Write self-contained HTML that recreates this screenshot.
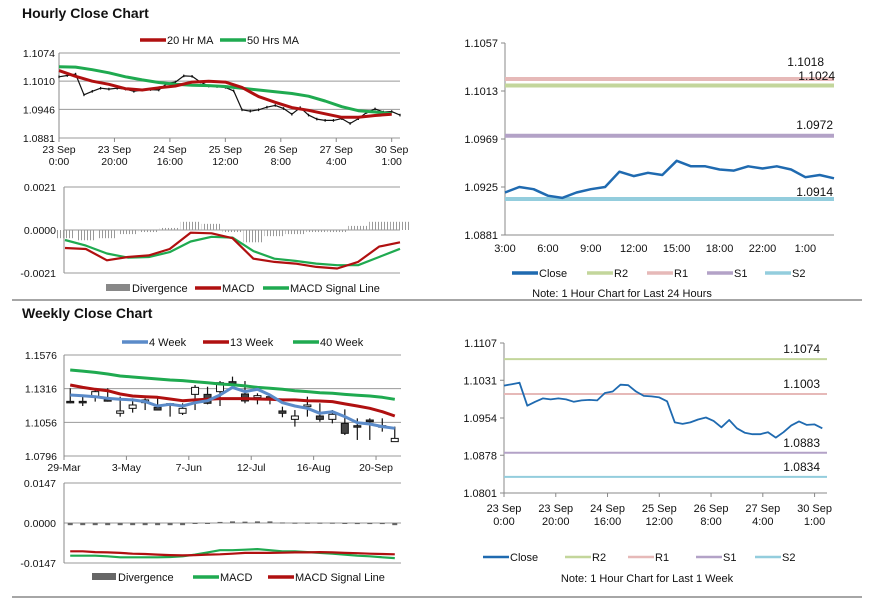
<!DOCTYPE html>
<html><head><meta charset="utf-8"><style>
html,body{margin:0;padding:0;background:#fff;}
svg{display:block;font-family:"Liberation Sans",Arial,sans-serif;}
</style></head><body>
<svg id="c" width="873" height="601" viewBox="0 0 873 601" xmlns="http://www.w3.org/2000/svg">
<defs><pattern id="stripes" width="3" height="4" patternUnits="userSpaceOnUse"><rect x="0" y="0" width="1" height="4" fill="#999"/></pattern></defs>
<text x="22" y="18" font-size="14" font-weight="bold" fill="#111">Hourly Close Chart</text>
<text x="22" y="318" font-size="14" font-weight="bold" fill="#111">Weekly Close Chart</text>
<line x1="12" y1="300" x2="862" y2="300" stroke="#888" stroke-width="1.5"/>
<line x1="12" y1="597" x2="862" y2="597" stroke="#888" stroke-width="1.5"/>
</svg>
<script>
const hourlyHours=[0,3,6,9,12,15,18,21,24,27,30,33,36,39,42,45,48,51,54,57,60,63,66,69,72,75,78,81,84,87,90,93,96,99,102,105,108,111,114,117,120,123];
const hourlyClose=[1.1020,1.1023,1.1026,1.0979,1.0987,1.0994,1.0992,1.0994,1.0992,1.0987,1.0990,1.0991,1.0990,1.1005,1.1008,1.1022,1.1021,1.1008,1.0999,1.0998,1.0996,1.0988,1.0945,1.0942,1.0945,1.0951,1.0955,1.0948,1.0935,1.0950,1.0933,1.0924,1.0921,1.0921,1.0925,1.0914,1.0925,1.0939,1.0947,1.0940,1.0941,1.0933];
const maHours=[0,6,12,18,24,30,36,42,48,54,60,66,72,78,84,90,96,102,108,114,120];
const ma20=[1.1034,1.1021,1.1010,1.1003,1.0993,1.0990,1.0995,1.0999,1.1008,1.1010,1.1008,1.0996,1.0975,1.0962,1.0950,1.0944,1.0936,1.0928,1.0928,1.0932,1.0935];
const ma50=[1.1043,1.1042,1.1036,1.1029,1.1020,1.1013,1.1007,1.1003,1.1001,1.1000,1.0998,1.0994,1.0990,1.0986,1.0982,1.0976,1.0965,1.0952,1.0943,1.0940,1.0936];
const hourlyTicks=[1.1074,1.1010,1.0946,1.0881];
const hourlyXLabels=[["23 Sep","0:00"],["23 Sep","20:00"],["24 Sep","16:00"],["25 Sep","12:00"],["26 Sep","8:00"],["27 Sep","4:00"],["30 Sep","1:00"]];
const hMacd=[-0.00088,-0.00093,-0.00148,-0.00132,-0.00124,-0.00093,-0.00013,-0.00016,-0.00040,-0.00140,-0.00156,-0.00164,-0.00180,-0.00188,-0.00156,-0.00081,-0.00060];
const hSignal=[-0.00049,-0.00076,-0.00115,-0.00135,-0.00132,-0.00108,-0.00056,-0.00033,-0.00037,-0.00103,-0.00140,-0.00151,-0.00164,-0.00172,-0.00172,-0.00132,-0.00092];
const hDiv=[-0.0004,-0.0005,-0.0004,-0.0002,-0.0001,0.0001,0.0004,0.0003,-0.0001,-0.0006,-0.0003,-0.0002,-0.0001,-0.0001,0.0002,0.0004,0.0004];
const hMacdTicks=["0.0021","0.0000","-0.0021"];
const dayLabels=["3:00","6:00","9:00","12:00","15:00","18:00","22:00","1:00"];
const dayClose=[1.0920,1.0925,1.0923,1.0917,1.0915,1.0920,1.0923,1.0925,1.0939,1.0935,1.0938,1.0936,1.0949,1.0944,1.0944,1.0941,1.0940,1.0944,1.0942,1.0944,1.0941,1.0934,1.0936,1.0933];
const dayTicks=[1.1057,1.1013,1.0969,1.0925,1.0881];
const dayLevels=[1.1018,1.1024,1.0972,1.0914];
const weekLabels=["29-Mar","3-May","7-Jun","12-Jul","16-Aug","20-Sep"];
const wOpen=[1.1218,1.1218,1.1254,1.1231,1.1126,1.1164,1.1208,1.1172,1.1200,1.1126,1.1272,1.1272,1.1293,1.1370,1.1275,1.1247,1.1254,1.1144,1.1079,1.1177,1.1105,1.1079,1.1048,1.1030,1.1074,1.1030,1.0907];
const wHigh=[1.1319,1.1254,1.1306,1.1319,1.1254,1.1241,1.1241,1.1254,1.1203,1.1203,1.1344,1.1331,1.1375,1.1409,1.1375,1.1280,1.1272,1.1177,1.1151,1.1254,1.1203,1.1151,1.1156,1.1087,1.1087,1.1087,1.1023];
const wLow=[1.1203,1.1182,1.1216,1.1216,1.1100,1.1131,1.1151,1.1151,1.1100,1.1113,1.1151,1.1195,1.1182,1.1337,1.1203,1.1195,1.1195,1.1095,1.1023,1.1100,1.1061,1.1048,1.0958,1.0920,1.0920,1.0984,1.0907];
const wClose=[1.1214,1.1214,1.1293,1.1227,1.1144,1.1190,1.1229,1.1151,1.1196,1.1164,1.1326,1.1203,1.1362,1.1357,1.1221,1.1262,1.1229,1.1126,1.1105,1.1190,1.1079,1.1118,1.0971,1.1026,1.1061,1.1026,1.0932];
const w4=[1.1267,1.1262,1.1254,1.1241,1.1234,1.1229,1.1216,1.1182,1.1195,1.1182,1.1208,1.1223,1.1267,1.1326,1.1293,1.1311,1.1267,1.1208,1.1182,1.1164,1.1126,1.1138,1.1100,1.1053,1.1043,1.1023,1.1010];
const w13=[1.1344,1.1326,1.1311,1.1300,1.1275,1.1259,1.1254,1.1249,1.1236,1.1223,1.1229,1.1234,1.1239,1.1239,1.1239,1.1236,1.1234,1.1229,1.1229,1.1223,1.1221,1.1216,1.1198,1.1182,1.1164,1.1138,1.1105];
const w40=[1.1460,1.1452,1.1442,1.1429,1.1414,1.1406,1.1398,1.1391,1.1383,1.1378,1.1370,1.1362,1.1352,1.1347,1.1337,1.1326,1.1319,1.1311,1.1300,1.1293,1.1285,1.1280,1.1272,1.1265,1.1259,1.1249,1.1234];
const weekTicks=[1.1576,1.1316,1.1056,1.0796];
const wMacd=[-0.0120,-0.0120,-0.0120,-0.01225,-0.0126,-0.0126,-0.0126,-0.0126,-0.0125,-0.01225,-0.0116,-0.0108,-0.0100,-0.0100,-0.0098,-0.0096,-0.0100,-0.0104,-0.0104,-0.0107,-0.0110,-0.0113,-0.0116,-0.0120,-0.01225,-0.0126,-0.0129];
const wSignal=[-0.0104,-0.0104,-0.0107,-0.0108,-0.0110,-0.0113,-0.0114,-0.0116,-0.0118,-0.0119,-0.0118,-0.0116,-0.0115,-0.0113,-0.0110,-0.0110,-0.0110,-0.0109,-0.0108,-0.0108,-0.0107,-0.0108,-0.0110,-0.0111,-0.0113,-0.0114,-0.0115];
const wDiv=[-0.0008,-0.0008,-0.0008,-0.0008,-0.0008,-0.0008,-0.0008,-0.0008,-0.0008,-0.0008,-0.0002,-0.0001,0.0004,0.0006,0.0005,0.0006,0.0006,0.0002,0.0001,0.0001,0.0001,0.0001,-0.0002,-0.0004,-0.0004,-0.0004,-0.0008];
const wMacdTicks=["0.0147","0.0000","-0.0147"];
const weekHourTicks=[1.1107,1.1031,1.0954,1.0878,1.0801];
const weekHourLevels=[1.1074,1.1003,1.0883,1.0834];

const svg=document.getElementById('c');
const NS='http://www.w3.org/2000/svg';
function mk(tag,attrs,parent){const e=document.createElementNS(NS,tag);for(const k in attrs)e.setAttribute(k,attrs[k]);(parent||svg).appendChild(e);return e;}
function txt(x,y,s,size,anchor,parent){const e=mk('text',{x:x,y:y,'font-size':size||11,'text-anchor':anchor||'start',fill:'#111'},parent);e.textContent=s;return e;}
function lin(a,b,c,d){return v=>c+(v-a)*(d-c)/(b-a);}
function poly(xs,ys,color,w,parent){return mk('polyline',{points:xs.map((x,i)=>x.toFixed(1)+','+ys[i].toFixed(1)).join(' '),fill:'none',stroke:color,'stroke-width':w,'stroke-linejoin':'round'},parent);}
function legendLine(x,y,color,label,w,parent){const g=mk('g',{},parent);mk('line',{x1:x,y1:y-4,x2:x+26,y2:y-4,stroke:color,'stroke-width':w||3.5},g);txt(x+27,y,label,11,'start',g);return g;}
function legendRect(x,y,color,label,parent){const g=mk('g',{},parent);mk('rect',{x:x,y:y-8,width:24,height:7,fill:color},g);txt(x+26,y,label,11,'start',g);return g;}

(function(){
 const g=mk('g',{});
 const X0=59,X1=400,Y0=53,Y1=138;
 const x=lin(0,123,X0,X1), y=lin(1.1074,1.0881,Y0,Y1);
 hourlyTicks.forEach(t=>{const gl=mk('line',{x1:X0,x2:X1,y1:y(t),y2:y(t),stroke:'#999','stroke-width':1},g);const l=txt(X0-4,y(t)+4,t.toFixed(4),10.5,'end',g);});
 mk('line',{x1:X0,x2:X0,y1:Y0,y2:Y1,stroke:'#888'},g);
 hourlyXLabels.forEach((s,i)=>{const xx=x(i*20);mk('line',{x1:xx,x2:xx,y1:Y1,y2:Y1+4,stroke:'#888'},g);const a=txt(xx,Y1+15,s[0],10.5,'middle',g);txt(xx,Y1+27,s[1],10.5,'middle',g);});
 const pl=poly(hourlyHours.map(x),hourlyClose.map(y),'#111',1.2,g);
 hourlyClose.forEach((c,i)=>{const hi=c+0.0003,lo=c-0.0003;const b=mk('line',{x1:x(hourlyHours[i]),x2:x(hourlyHours[i]),y1:y(hi),y2:y(lo),stroke:'#111','stroke-width':1.2},g);});
 const p1=poly(maHours.map(x),ma50.map(y),'#1faa50',3,g);
 const p2=poly(maHours.map(x),ma20.map(y),'#b01010',3,g);
 legendLine(140,44,'#b01010','20 Hr MA',3.5,g);legendLine(220,44,'#1faa50','50 Hrs MA',3.5,g);
})();
(function(){
 const g=mk('g',{});
 const X0=64,X1=400;const y=lin(0.0021,-0.0021,187,273);const x=lin(0,hMacd.length-1,X0+1,X1);
 mk('line',{x1:X0,x2:X0,y1:187,y2:273,stroke:'#888'},g);
 [0.0021,0,-0.0021].forEach((t,i)=>{mk('line',{x1:X0,x2:X1,y1:y(t),y2:y(t),stroke:'#999'},g);const l=txt(X0-8,y(t)+4,hMacdTicks[i],10.5,'end',g);});
 const bw=(X1-X0)/hDiv.length;
 hDiv.forEach((v,i)=>{const r=mk('rect',{x:x(i)-bw/2,width:bw,y:Math.min(y(0),y(v)),height:Math.abs(y(v)-y(0)),fill:'url(#stripes)'},g);});
 const s=poly(hSignal.map((v,i)=>x(i)),hSignal.map(y),'#1faa50',2.2,g);
 const m=poly(hMacd.map((v,i)=>x(i)),hMacd.map(y),'#b01010',2.2,g);
 legendRect(106,292,'#888','Divergence',g);legendLine(195,292,'#b01010','MACD',3.5,g);legendLine(263,292,'#1faa50','MACD Signal Line',3.5,g);
})();
(function(){
 const g=mk('g',{});
 const X0=505,X1=834;const y=lin(1.1057,1.0881,43,235);const x=lin(0,23,X0,X1);
 mk('line',{x1:X0,x2:X0,y1:43,y2:235,stroke:'#888'},g);mk('line',{x1:X0,x2:X1,y1:235,y2:235,stroke:'#888'},g);
 dayTicks.forEach(t=>{mk('line',{x1:X0-4,x2:X0,y1:y(t),y2:y(t),stroke:'#888'},g);const l=txt(X0-7,y(t)+4,t.toFixed(4),11,'end',g);});
 dayLabels.forEach((s,i)=>{const l=txt(x(i*3),252,s,11,'middle',g);});
 const cols=['#c3d69b','#e6b9b8','#b3a2c7','#93cddd'];const names=['r2','r1','s1','s2'];
 const lbl=[[824,66],[835,80],[833,129],[833,196]];
 dayLevels.forEach((v,i)=>{const l=mk('line',{x1:X0,x2:X1,y1:y(v),y2:y(v),stroke:cols[i],'stroke-width':4},g);});
 dayLevels.forEach((v,i)=>{const t=txt(lbl[i][0],lbl[i][1],v.toFixed(4),12,'end',g);});
 const c=poly(dayClose.map((v,i)=>x(i)),dayClose.map(y),'#1f6ab0',2.5,g);
 legendLine(512,277,'#1f6ab0','Close',3.5,g);legendLine(587,277,cols[0],'R2',3.5,g);legendLine(647,277,cols[1],'R1',3.5,g);legendLine(707,277,cols[2],'S1',3.5,g);legendLine(765,277,cols[3],'S2',3.5,g);
 const n=txt(622,297,'Note: 1 Hour Chart for Last 24 Hours',11,'middle',g);
})();
(function(){
 const g=mk('g',{});
 const X0=64,X1=401;const y=lin(1.1576,1.0796,355,456);const n=wClose.length;const cw=(X1-X0)/n;const cx=i=>X0+cw*(i+0.5);
 weekTicks.forEach(t=>{mk('line',{x1:X0,x2:X1,y1:y(t),y2:y(t),stroke:'#999'},g);const l=txt(X0-7,y(t)+4,t.toFixed(4),10.5,'end',g);});
 mk('line',{x1:X0,x2:X0,y1:355,y2:456,stroke:'#888'},g);
 weekLabels.forEach((s,i)=>{const xx=X0+cw*5*i;mk('line',{x1:xx,x2:xx,y1:456,y2:460,stroke:'#888'},g);const l=txt(xx,471,s,10.5,'middle',g);});
 for(let i=0;i<n;i++){
  const cg=mk('g',{},g);
  mk('line',{x1:cx(i),x2:cx(i),y1:y(wHigh[i]),y2:y(wLow[i]),stroke:'#111','stroke-width':1.2},cg);
  const top=y(Math.max(wOpen[i],wClose[i])),bot=y(Math.min(wOpen[i],wClose[i]));
  mk('rect',{x:cx(i)-3.5,y:top,width:7,height:Math.max(1.5,bot-top),fill:wClose[i]>=wOpen[i]?'#fff':'#444',stroke:'#111','stroke-width':1},cg);
 }
 const xs=wClose.map((v,i)=>cx(i));
 const a=poly(xs,w40.map(y),'#1faa50',3,g);
 const b=poly(xs,w13.map(y),'#b01010',3,g);
 const c=poly(xs,w4.map(y),'#5b8bc9',3,g);
 legendLine(122,346,'#5b8bc9','4 Week',3.5,g);legendLine(203,346,'#b01010','13 Week',3.5,g);legendLine(293,346,'#1faa50','40 Week',3.5,g);
})();
(function(){
 const g=mk('g',{});
 const X0=64,X1=401;const y=lin(0.0147,-0.0147,483,563);const n=wMacd.length;const cw=(X1-X0)/n;const cx=i=>X0+cw*(i+0.5);
 [0.0147,0,-0.0147].forEach((t,i)=>{mk('line',{x1:X0,x2:X1,y1:y(t),y2:y(t),stroke:'#999'},g);const l=txt(X0-8,y(t)+4,wMacdTicks[i],10.5,'end',g);});
 mk('line',{x1:X0,x2:X0,y1:483,y2:563,stroke:'#888'},g);
 wDiv.forEach((v,i)=>{const r=mk('rect',{x:cx(i)-2.5,width:5,y:Math.min(y(0),y(v)),height:Math.max(1,Math.abs(y(v)-y(0))),fill:'#666'},g);});
 const xs=wMacd.map((v,i)=>cx(i));
 const a=poly(xs,wMacd.map(y),'#1faa50',2.2,g);
 const b=poly(xs,wSignal.map(y),'#b01010',2.2,g);
 legendRect(92,581,'#666','Divergence',g);legendLine(193,581,'#1faa50','MACD',3.5,g);legendLine(268,581,'#b01010','MACD Signal Line',3.5,g);
})();
(function(){
 const g=mk('g',{});
 const X0=504,X1=827;const y=lin(1.1107,1.0801,343,493);const x=lin(0,124.8,X0,X1);
 mk('line',{x1:X0,x2:X0,y1:343,y2:493,stroke:'#888'},g);mk('line',{x1:X0,x2:X1,y1:493,y2:493,stroke:'#888'},g);
 weekHourTicks.forEach(t=>{mk('line',{x1:X0-4,x2:X0,y1:y(t),y2:y(t),stroke:'#888'},g);const l=txt(X0-7,y(t)+4,t.toFixed(4),11,'end',g);});
 hourlyXLabels.forEach((s,i)=>{const xx=x(i*20);mk('line',{x1:xx,x2:xx,y1:493,y2:497,stroke:'#888'},g);const l=txt(xx,512,s[0],11,'middle',g);txt(xx,525,s[1],11,'middle',g);});
 const cols=['#c3d69b','#e6b9b8','#b3a2c7','#93cddd'];const names=['r2','r1','s1','s2'];
 weekHourLevels.forEach((v,i)=>{const l=mk('line',{x1:X0,x2:X1,y1:y(v),y2:y(v),stroke:cols[i],'stroke-width':2},g);const t=txt(820,y(v)-6,v.toFixed(4),12,'end',g);});
 const c=poly(hourlyHours.map(x),hourlyClose.map(y),'#1f6ab0',1.8,g);
 legendLine(483,561,'#1f6ab0','Close',2.5,g);legendLine(565,561,cols[0],'R2',2.5,g);legendLine(628,561,cols[1],'R1',2.5,g);legendLine(696,561,cols[2],'S1',2.5,g);legendLine(755,561,cols[3],'S2',2.5,g);
 const n=txt(647,582,'Note: 1 Hour Chart for Last 1 Week',11,'middle',g);
})();
</script>
</body></html>
